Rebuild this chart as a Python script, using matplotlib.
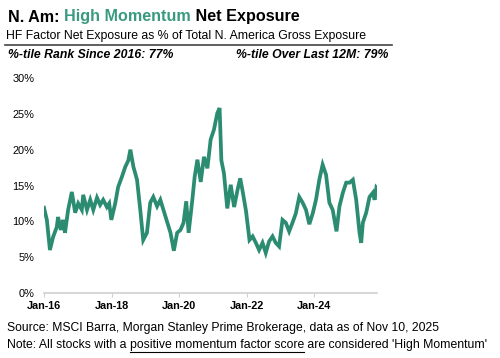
import pandas as pd
import matplotlib
matplotlib.use("Agg")
import matplotlib.pyplot as plt
import matplotlib.dates as mdates
from matplotlib.lines import Line2D

plt.rcParams['font.family'] = ['Liberation Sans', 'DejaVu Sans']

# data (approximate turning points)
dates = ['2016-01-01', '2016-02-01', '2016-03-05', '2016-04-08', '2016-05-18', '2016-06-01',
         '2016-07-01', '2016-07-25', '2016-08-15', '2016-09-18', '2016-10-28', '2016-12-03',
         '2017-01-05', '2017-02-13', '2017-02-28', '2017-04-10', '2017-05-15', '2017-06-17',
         '2017-07-27', '2017-08-30', '2017-10-02', '2017-11-11', '2017-12-06', '2017-12-29',
         '2018-02-09', '2018-03-13', '2018-04-22', '2018-05-29', '2018-07-01', '2018-07-23',
         '2018-08-25', '2018-10-03', '2018-11-07', '2018-12-09', '2019-01-18', '2019-02-23',
         '2019-03-28', '2019-05-08', '2019-06-12', '2019-08-06', '2019-09-30', '2019-11-05',
         '2019-12-11', '2020-01-16', '2020-02-18', '2020-03-18', '2020-04-13', '2020-05-23',
         '2020-06-17', '2020-07-17', '2020-08-22', '2020-09-26', '2020-11-02', '2020-12-07',
         '2021-01-12', '2021-02-17', '2021-03-14', '2021-04-02', '2021-04-30', '2021-06-05',
         '2021-07-12', '2021-08-18', '2021-09-24', '2021-10-23', '2021-11-18', '2021-12-25',
         '2022-01-31', '2022-03-06', '2022-04-10', '2022-05-15', '2022-06-21', '2022-07-26',
         '2022-08-31', '2022-10-07', '2022-11-11', '2022-12-17', '2023-01-23', '2023-02-28',
         '2023-04-05', '2023-05-11', '2023-06-16', '2023-07-23', '2023-08-29', '2023-10-04',
         '2023-11-09', '2023-12-16', '2024-01-20', '2024-02-25', '2024-04-01', '2024-05-08',
         '2024-06-13', '2024-07-19', '2024-08-29', '2024-09-30', '2024-11-06', '2024-12-12',
         '2025-01-17', '2025-02-22', '2025-03-30', '2025-05-05', '2025-05-23', '2025-06-10',
         '2025-07-16', '2025-08-21', '2025-09-27', '2025-10-15', '2025-11-03', '2025-11-10']
net_exposure = [11.9, 10.2, 6.0, 7.8, 9.2, 10.6,
                8.8, 10.2, 8.4, 11.6, 14.1, 11.2,
                12.5, 11.6, 13.7, 11.6, 13.0, 11.6,
                13.3, 12.3, 13.0, 12.0, 12.5, 10.2,
                12.5, 14.8, 16.2, 17.6, 18.5, 20.0,
                17.6, 15.8, 11.6, 7.4, 8.4, 12.6,
                13.4, 12.1, 13.0, 10.7, 8.4, 5.9,
                8.4, 8.8, 9.8, 12.8, 8.4, 13.0,
                16.2, 18.6, 15.5, 19.0, 17.4, 21.4,
                22.8, 25.1, 25.8, 18.5, 16.7, 11.8,
                15.1, 12.0, 14.4, 16.0, 14.2, 11.4,
                7.4, 7.9, 7.0, 6.0, 7.0, 5.6,
                7.2, 7.9, 7.0, 6.5, 10.2, 9.8,
                8.6, 9.8, 11.1, 13.4, 12.6, 11.6,
                9.6, 11.1, 13.0, 15.8, 17.9, 16.5,
                12.6, 11.6, 8.6, 12.1, 14.0, 15.4,
                15.4, 15.8, 13.0, 8.4, 7.0, 9.8,
                11.2, 13.4, 14.0, 13.0, 14.7, 14.6]
y_ticks = [0, 5, 10, 15, 20, 25, 30]
x_ticks = ['2016-01-01', '2018-01-01', '2020-01-01', '2022-01-01', '2024-01-01']

df = pd.DataFrame({'date': pd.to_datetime(dates), 'value': net_exposure})

GREEN = '#2b8c72'
W, H = 500, 358
fig = plt.figure(figsize=(5, 3.58), dpi=100)
ax = fig.add_axes([44 / W, (H - 293) / H, (377 - 44) / W, (293 - 78) / H])

ax.plot(df.date, df.value, color=GREEN, linewidth=2.7, solid_joinstyle='miter')

ax.set_ylim(0, 30)
ax.set_yticks(y_ticks)
ax.set_yticklabels([f"{t}%" for t in y_ticks], fontsize=7.9)
ax.set_xlim(pd.Timestamp('2016-01-01'), pd.Timestamp('2025-11-10'))
ax.set_xticks(pd.to_datetime(x_ticks))
ax.xaxis.set_major_formatter(mdates.DateFormatter('%b-%y'))
for lab in ax.get_xticklabels():
    lab.set_fontweight('bold')
    lab.set_fontsize(7.8)
ax.tick_params(axis='y', length=0, pad=7)
ax.tick_params(axis='x', length=3, color='#d0d0d0', pad=3)
for s in ['top', 'right', 'left']:
    ax.spines[s].set_visible(False)
ax.spines['bottom'].set_color('#d0d0d0')
ax.spines['bottom'].set_linewidth(1.2)

renderer = fig.canvas.get_renderer()


def text_run(x, y, parts, **kw):
    # draw pieces of text one after another on a single line
    for s, opts in parts:
        t = fig.text(x, y, s, va='center', ha='left', **kw, **opts)
        bb = t.get_window_extent(renderer)
        x = bb.x1 / W
        yield t, bb


# title
title_parts = [("N. Am: ", {'color': 'black'}),
               ("High Momentum", {'color': '#3a9a80'}),
               (" Net Exposure", {'color': 'black'})]
list(text_run(8 / W, 1 - 17 / H, title_parts, fontsize=11.6, fontweight='bold'))

fig.text(6 / W, 1 - 36.5 / H, "HF Factor Net Exposure as % of Total N. America Gross Exposure",
         fontsize=8.8, va='center', ha='left')
fig.add_artist(Line2D([5 / W, 392 / W], [1 - 44.5 / H, 1 - 44.5 / H],
                      color='#444444', linewidth=1.2, transform=fig.transFigure))
fig.text(8 / W, 1 - 54.5 / H, "%-tile Rank Since 2016: 77%", fontsize=8.85,
         fontweight='bold', fontstyle='italic', va='center', ha='left')
fig.text(236 / W, 1 - 54.5 / H, "%-tile Over Last 12M: 79%", fontsize=8.85,
         fontweight='bold', fontstyle='italic', va='center', ha='left')

# footer
fig.text(7 / W, 1 - 328 / H, "Source: MSCI Barra, Morgan Stanley Prime Brokerage, data as of Nov 10, 2025",
         fontsize=8.75, va='center', ha='left')
note_parts = [("Note: All stocks with a ", {}),
              ("positive momentum factor score", {}),
              (" are considered 'High Momentum'", {})]
for i, (t, bb) in enumerate(text_run(7 / W, 1 - 345 / H, note_parts, fontsize=8.85)):
    if i == 1:
        yu = bb.y0 - 0.5
        fig.add_artist(Line2D([bb.x0 / W, bb.x1 / W], [yu / H, yu / H], color='black',
                              linewidth=0.8, transform=fig.transFigure))

fig.savefig('out.png', dpi=100)
